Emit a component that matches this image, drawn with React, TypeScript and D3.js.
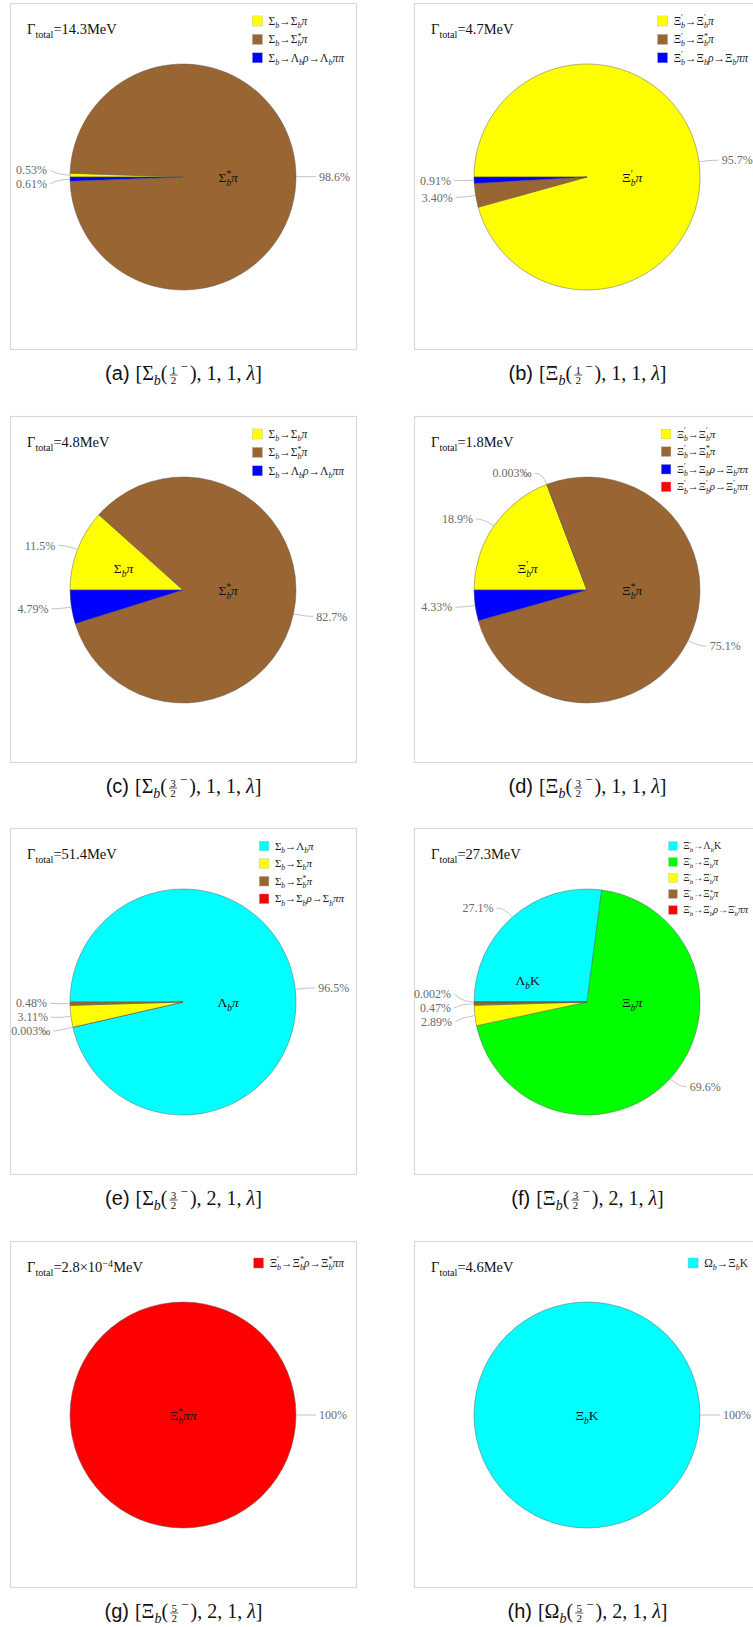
import React, { useEffect, useRef } from "react";
import * as d3 from "d3";

const W = 753;
const H = 1627;
const SERIF = "'Liberation Serif', 'Times New Roman', serif";
const SANS = "'Liberation Sans', Arial, sans-serif";

// Caption pieces for each panel: [Baryon(J^P), n, L, λ]
const panelLetters = ["a", "b", "c", "d", "e", "f", "g", "h"];
const captionBaryons = ["Σ", "Ξ", "Σ", "Ξ", "Σ", "Ξ", "Ξ", "Ω"];
const captionSpinNum = ["1", "1", "3", "3", "3", "3", "5", "5"];
const captionN = ["1", "1", "1", "1", "2", "2", "2", "2"];
const captionL = ["1", "1", "1", "1", "1", "1", "1", "1"];

// Total widths (MeV)
const totalWidths = ["14.3", "4.7", "4.8", "1.8", "51.4", "27.3", "2.8×10^{−4}", "4.6"];

const COLORS: Record<string, string> = {
  yellow: "#FFFF00",
  brown: "#996633",
  blue: "#0000FF",
  red: "#FF0000",
  cyan: "#00FFFF",
  green: "#00FF00",
};

// Decay channels (legend order), colours, branching ratios in percent,
// and the order in which the sectors are laid around the pie.
const channelsA = ["Σ_b→Σ_bπ", "Σ_b→Σ_b^*π", "Σ_b→Λ_bρ→Λ_bππ"];
const colorsA = ["yellow", "brown", "blue"];
const valuesA = [0.53, 98.6, 0.61];
const orderA = [0, 1, 2];

const channelsB = ["Ξ_b^′→Ξ_b^′π", "Ξ_b^′→Ξ_b^*π", "Ξ_b^′→Ξ_bρ→Ξ_bππ"];
const colorsB = ["yellow", "brown", "blue"];
const valuesB = [95.7, 3.4, 0.91];
const orderB = [0, 1, 2];

const channelsC = ["Σ_b→Σ_bπ", "Σ_b→Σ_b^*π", "Σ_b→Λ_bρ→Λ_bππ"];
const colorsC = ["yellow", "brown", "blue"];
const valuesC = [11.5, 82.7, 4.79];
const orderC = [0, 1, 2];

const channelsD = ["Ξ_b^′→Ξ_b^′π", "Ξ_b^′→Ξ_b^*π", "Ξ_b^′→Ξ_bρ→Ξ_bππ", "Ξ_b^′→Ξ_b^′ρ→Ξ_b^′ππ"];
const colorsD = ["yellow", "brown", "blue", "red"];
const valuesD = [18.9, 75.1, 4.33, 0.0003];
const orderD = [0, 3, 1, 2];

const channelsE = ["Σ_b→Λ_bπ", "Σ_b→Σ_bπ", "Σ_b→Σ_b^*π", "Σ_b→Σ_bρ→Σ_bππ"];
const colorsE = ["cyan", "yellow", "brown", "red"];
const valuesE = [96.5, 3.11, 0.48, 0.0003];
const orderE = [0, 3, 1, 2];

const channelsF = ["Ξ_b^′→Λ_bK", "Ξ_b^′→Ξ_bπ", "Ξ_b^′→Ξ_b^′π", "Ξ_b^′→Ξ_b^*π", "Ξ_b^′→Ξ_b^′ρ→Ξ_b^′ππ"];
const colorsF = ["cyan", "green", "yellow", "brown", "red"];
const valuesF = [27.1, 69.6, 2.89, 0.47, 0.002];
const orderF = [0, 1, 2, 3, 4];

const channelsG = ["Ξ_b^′→Ξ_b^*ρ→Ξ_b^*ππ"];
const colorsG = ["red"];
const valuesG = [100];
const orderG = [0];

const channelsH = ["Ω_b→Ξ_bK"];
const colorsH = ["cyan"];
const valuesH = [100];
const orderH = [0];

type Panel = { channels: string[]; colors: string[]; values: number[]; order: number[] };
const panels: Panel[] = [
  { channels: channelsA, colors: colorsA, values: valuesA, order: orderA },
  { channels: channelsB, colors: colorsB, values: valuesB, order: orderB },
  { channels: channelsC, colors: colorsC, values: valuesC, order: orderC },
  { channels: channelsD, colors: colorsD, values: valuesD, order: orderD },
  { channels: channelsE, colors: colorsE, values: valuesE, order: orderE },
  { channels: channelsF, colors: colorsF, values: valuesF, order: orderF },
  { channels: channelsG, colors: colorsG, values: valuesG, order: orderG },
  { channels: channelsH, colors: colorsH, values: valuesH, order: orderH },
];

function formatPercent(v: number): string {
  if (v < 0.001) return (v * 10).toFixed(3) + "‰";
  if (v < 0.01) return v.toFixed(3) + "%";
  if (v < 1) return v.toFixed(2) + "%";
  return v.toPrecision(3) + "%";
}

type Tok = { t: string; kind: "base" | "sub" | "sup"; it: boolean; stack?: boolean };

// Tiny markup: "_x" / "_{xy}" subscript, "^x" / "^{xy}" superscript.
function parseRich(s: string): Tok[] {
  const out: Tok[] = [];
  let i = 0;
  while (i < s.length) {
    const c = s[i];
    if (c === "_" || c === "^") {
      let arg = "";
      if (s[i + 1] === "{") {
        const j = s.indexOf("}", i + 2);
        arg = s.slice(i + 2, j);
        i = j + 1;
      } else {
        arg = s[i + 1];
        i += 2;
      }
      const kind = c === "_" ? "sub" : "sup";
      const prev = out[out.length - 1];
      out.push({ t: arg, kind, it: arg === "b", stack: kind === "sup" && !!prev && prev.kind === "sub" });
    } else {
      const it = "πρλ".includes(c);
      const prev = out[out.length - 1];
      if (prev && prev.kind === "base" && prev.it === it) prev.t += c;
      else out.push({ t: c, kind: "base", it });
      i++;
    }
  }
  return out;
}

function drawRich(g: d3.Selection<SVGGElement, unknown, null, undefined>, s: string, fs: number, fill: string): number {
  const toks = parseRich(s);
  let x = 0;
  let lastStart = 0;
  let lastW = 0;
  for (const tk of toks) {
    const small = tk.kind !== "base";
    const size = small ? fs * 0.7 : fs;
    const dy = tk.kind === "sub" ? fs * 0.28 : tk.kind === "sup" ? -fs * 0.38 : 0;
    const px = tk.stack ? lastStart : x;
    const el = g
      .append("text")
      .attr("x", px)
      .attr("y", dy)
      .attr("font-size", size)
      .attr("font-style", tk.it ? "italic" : "normal")
      .attr("fill", fill)
      .text(tk.t);
    const w = (el.node() as SVGTextElement).getComputedTextLength();
    if (tk.stack) {
      x = lastStart + Math.max(lastW, w);
    } else {
      lastStart = x;
      lastW = w;
      x += w;
    }
  }
  return x;
}

const FRAME = 346;
const R = 113;

function drawPanel(root: d3.Selection<SVGGElement, unknown, null, undefined>, p: Panel, k: number, x0: number, y0: number) {
  const g = root.append("g").attr("transform", `translate(${x0},${y0})`);
  g.append("rect")
    .attr("x", 0.5)
    .attr("y", 0.5)
    .attr("width", FRAME)
    .attr("height", FRAME)
    .attr("fill", "#fff")
    .attr("stroke", "#d9d9d9")
    .attr("stroke-width", 1.2);

  const cx = FRAME / 2;
  const cy = FRAME / 2 + 1;

  const sectors = p.order.map((i) => ({ i, value: p.values[i] }));
  const total = d3.sum(sectors, (d) => d.value);
  const pie = d3
    .pie<{ i: number; value: number }>()
    .value((d) => d.value)
    .sort(null)
    .startAngle(-Math.PI / 2)
    .endAngle(1.5 * Math.PI);
  const arcs = pie(sectors);
  const arc = d3.arc<d3.PieArcDatum<{ i: number; value: number }>>().innerRadius(0).outerRadius(R);

  const pg = g.append("g").attr("transform", `translate(${cx},${cy})`);
  pg.selectAll("path.sector")
    .data(arcs)
    .join("path")
    .attr("class", "sector")
    .attr("d", arc as any)
    .attr("fill", (d) => COLORS[p.colors[d.data.i]])
    .attr("stroke", "#555")
    .attr("stroke-width", 0.6)
    .attr("stroke-opacity", 0.75);

  const pt = (a: number, rr: number) => [rr * Math.sin(a), -rr * Math.cos(a)];

  // Percentage call-outs with leader lines
  type Lab = { text: string; p1: number[]; p2: number[]; y: number; side: number };
  const labs: Lab[] = arcs.map((d) => {
    const m = (d.startAngle + d.endAngle) / 2;
    const p1 = pt(m, R);
    const p2 = pt(m, R + 12);
    return { text: formatPercent(d.data.value), p1, p2, y: p2[1], side: Math.sin(m) < 0 ? -1 : 1 };
  });
  const GAP = 14;
  for (const side of [-1, 1]) {
    const list = labs.filter((l) => l.side === side).sort((a, b) => a.y - b.y);
    for (let it = 0; it < 80; it++) {
      for (let j = 1; j < list.length; j++) {
        const a = list[j - 1];
        const b = list[j];
        const d = b.y - a.y;
        if (d < GAP) {
          const o = (GAP - d) / 2;
          a.y -= o;
          b.y += o;
        }
      }
    }
  }
  const lg = pg.append("g");
  for (const l of labs) {
    const p3 = [l.p2[0] + l.side * 8, l.y];
    lg.append("path")
      .attr("d", `M${l.p1[0]},${l.p1[1]}Q${l.p2[0]},${l.p2[1]} ${p3[0]},${p3[1]}`)
      .attr("fill", "none")
      .attr("stroke", "#c4c4c4")
      .attr("stroke-width", 1);
    lg.append("text")
      .attr("x", p3[0] + l.side * 3)
      .attr("y", p3[1])
      .attr("dy", "0.35em")
      .attr("text-anchor", l.side < 0 ? "end" : "start")
      .attr("font-family", SERIF)
      .attr("font-size", 12)
      .attr("fill", "#6a6a6a")
      .text(l.text);
  }

  // Final-state labels inside the large sectors
  const big = arcs.filter((d) => d.data.value / total >= 0.1);
  const largest = big.reduce((a, b) => (b.data.value > a.data.value ? b : a), big[0]);
  const IFS = 13.5;
  for (const d of big) {
    const name = p.channels[d.data.i].split("→").pop() as string;
    let px = 0;
    let py = 0;
    if (d === largest) {
      if (d.data.value / total < 0.999) px = 0.4 * R;
    } else {
      const m = (d.startAngle + d.endAngle) / 2;
      let theta = Math.PI / 2 - m; // maths angle
      let dev = Math.atan2(Math.sin(theta - Math.PI), Math.cos(theta - Math.PI));
      const lim = (20 * Math.PI) / 180;
      dev = Math.max(-lim, Math.min(lim, dev));
      theta = Math.PI + dev;
      px = 0.56 * R * Math.cos(theta);
      py = -0.56 * R * Math.sin(theta);
    }
    const tg = pg.append("g").attr("font-family", SERIF);
    const w = drawRich(tg, name, IFS, "#111");
    tg.attr("transform", `translate(${px - w / 2},${py + IFS * 0.35})`);
  }

  // Total width
  const tg = g.append("g").attr("font-family", SERIF);
  drawRich(tg, `Γ_{total}=${totalWidths[k]}MeV`, 14.5, "#111");
  tg.attr("transform", `translate(17,31)`);

  // Legend, right aligned in the frame
  const n = p.channels.length;
  const lfs = n >= 5 ? 10 : n === 4 ? 11 : 11.5;
  const pitch = lfs * 1.6;
  const top = n === 1 ? 22 : 18;
  const sw = lfs * 0.88;
  const legend = g.append("g").attr("font-family", SERIF);
  const rows = p.channels.map((c, i) => {
    const rg = legend.append("g");
    const tgr = rg.append("g");
    const w = drawRich(tgr, c, lfs, "#222");
    return { rg, tgr, w, i };
  });
  const maxW = d3.max(rows, (r) => r.w) as number;
  const right = FRAME - 12;
  const textX = right - maxW;
  const swX = textX - 6 - sw;
  for (const r of rows) {
    const yc = top + r.i * pitch;
    r.rg
      .append("rect")
      .attr("x", swX)
      .attr("y", yc - sw / 2)
      .attr("width", sw)
      .attr("height", sw)
      .attr("fill", COLORS[p.colors[r.i]])
      .attr("stroke", "#bbb")
      .attr("stroke-width", 0.4);
    r.tgr.attr("transform", `translate(${textX},${yc + lfs * 0.33})`);
  }

  // Caption below the frame
  const cg = g.append("g").style("white-space", "pre");
  let x = 0;
  const put = (txt: string, o: { fs?: number; family?: string; italic?: boolean; dy?: number } = {}) => {
    const t = cg
      .append("text")
      .attr("x", x)
      .attr("y", o.dy ?? 0)
      .attr("font-family", o.family ?? SERIF)
      .attr("font-size", o.fs ?? 20)
      .attr("font-style", o.italic ? "italic" : "normal")
      .attr("fill", "#111")
      .style("white-space", "pre")
      .text(txt);
    const w = (t.node() as SVGTextElement).getComputedTextLength();
    x += w;
    return w;
  };
  put(`(${panelLetters[k]})`, { family: SANS });
  x += 6;
  put("[");
  put(captionBaryons[k]);
  put("b", { fs: 14, italic: true, dy: 5 });
  put("(");
  x += 2;
  const fw = 8;
  cg.append("text")
    .attr("x", x + fw / 2)
    .attr("y", -6.5)
    .attr("text-anchor", "middle")
    .attr("font-family", SERIF)
    .attr("font-size", 11)
    .attr("fill", "#111")
    .text(captionSpinNum[k]);
  cg.append("line")
    .attr("x1", x)
    .attr("x2", x + fw)
    .attr("y1", -5)
    .attr("y2", -5)
    .attr("stroke", "#111")
    .attr("stroke-width", 0.7);
  cg.append("text")
    .attr("x", x + fw / 2)
    .attr("y", 3.5)
    .attr("text-anchor", "middle")
    .attr("font-family", SERIF)
    .attr("font-size", 11)
    .attr("fill", "#111")
    .text("2");
  x += fw + 3;
  put("−", { fs: 13, dy: -9 });
  x += 2;
  put(")");
  put(`, ${captionN[k]}, ${captionL[k]}, `);
  put("λ", { italic: true });
  put("]");
  cg.attr("transform", `translate(${FRAME / 2 + 0.5 - x / 2},${FRAME + 31})`);
}

export default function App() {
  const ref = useRef<SVGSVGElement>(null);
  useEffect(() => {
    if (!ref.current) return;
    const svg = d3.select(ref.current);
    svg.selectAll("*").remove();
    const root = svg.append("g") as unknown as d3.Selection<SVGGElement, unknown, null, undefined>;
    const colX = [10, 414];
    const rowY = [3, 416, 828, 1241];
    panels.forEach((p, k) => {
      drawPanel(root, p, k, colX[k % 2], rowY[Math.floor(k / 2)]);
    });
  }, []);
  return (
    <div style={{ position: "absolute", left: 0, top: 0, width: W, height: H, overflow: "hidden", background: "#fff" }}>
      <svg ref={ref} width={W} height={H} style={{ display: "block" }} />
    </div>
  );
}
